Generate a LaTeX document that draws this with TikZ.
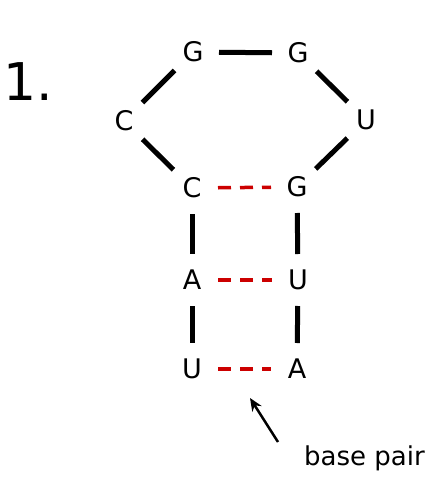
\documentclass[tikz,border=0pt]{standalone}
\usepackage{fontspec}
\setmainfont{DejaVu Sans}
\usetikzlibrary{arrows.meta}
\definecolor{pairred}{RGB}{204,0,0}
\begin{document}
\begin{tikzpicture}[x=1pt,y=-1pt,
  base/.style={font=\fontsize{27}{27}\selectfont, inner sep=0pt},
  bb/.style={line width=5pt, shorten <=26pt, shorten >=26pt},
  pairline/.style={line width=3.5pt, draw=pairred, dash pattern=on 13pt off 9pt, shorten <=26pt, shorten >=26pt}]
\useasboundingbox (0,0) rectangle (442,479);
\node[font=\fontsize{52}{52}\selectfont, inner sep=0pt] (num) at (28,82) {1.};
% loop
\node[base] (g1) at (193,52) {G};
\node[base] (g2) at (298,53) {G};
\node[base] (c1) at (124,121) {C};
\node[base] (u1) at (366,120) {U};
\node[base] (c2) at (192,188) {C};
\node[base] (g3) at (297,187) {G};
\node[base] (a1) at (192,280) {A};
\node[base] (u2) at (298,280) {U};
\node[base] (u3) at (192,369) {U};
\node[base] (a2) at (297,369) {A};
% backbone
\draw[bb] (g1.center) -- (g2.center);
\draw[bb] (g1.center) -- (c1.center);
\draw[bb] (g2.center) -- (u1.center);
\draw[bb] (c1.center) -- (c2.center);
\draw[bb] (u1.center) -- (g3.center);
\draw[bb] (c2.center) -- (a1.center);
\draw[bb] (a1.center) -- (u3.center);
\draw[bb] (g3.center) -- (u2.center);
\draw[bb] (u2.center) -- (a2.center);
% base pairs
\draw[pairline] (c2.center) -- (g3.center);
\draw[pairline] (a1.center) -- (u2.center);
\draw[pairline] (u3.center) -- (a2.center);
% label
\node[font=\fontsize{26}{26}\selectfont, inner sep=0pt, anchor=base west] (lbl) at (304,465) {base pair};
\coordinate (tail) at (278,442);
\coordinate (tip) at (250,398);
\draw[line width=2.5pt, -{Stealth[length=13pt,width=11pt]}] (tail) -- (tip);
\end{tikzpicture}
\end{document}
